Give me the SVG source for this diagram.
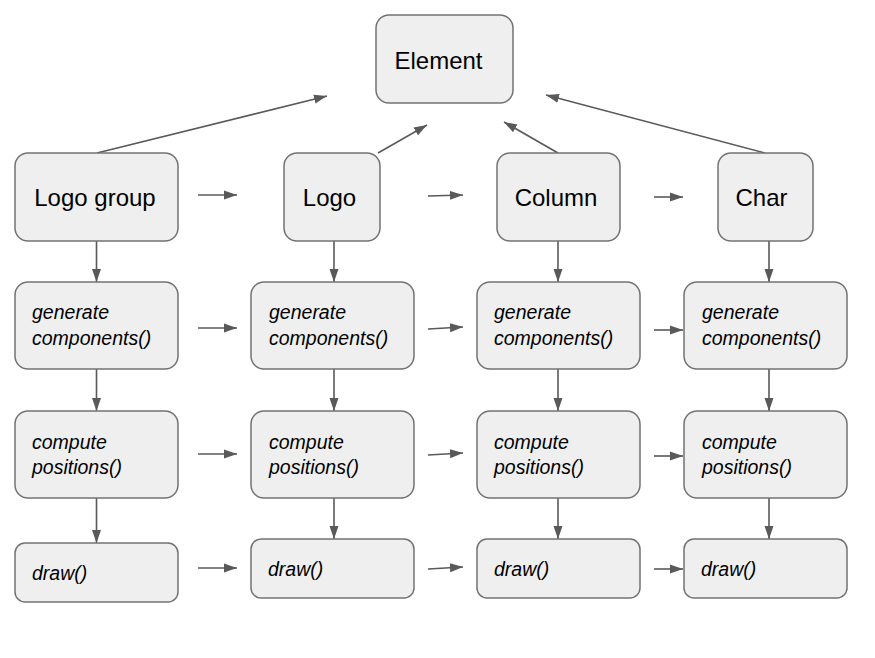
<svg xmlns="http://www.w3.org/2000/svg" width="875" height="658" viewBox="0 0 875 658">
<style>
.box{fill:#efefef;stroke:#737373;stroke-width:1.5}
.t{font-family:"Liberation Sans",Arial,sans-serif;font-size:24px;fill:#000;text-anchor:middle}
.i{font-family:"Liberation Sans",Arial,sans-serif;font-size:19.5px;font-style:italic;fill:#000}
.c{stroke:#595959;stroke-width:1.6;fill:none;marker-end:url(#ah)}
</style>
<defs>
<marker id="ah" markerUnits="userSpaceOnUse" markerWidth="14" markerHeight="10" refX="13" refY="5" orient="auto">
<path d="M0,0.5 L13,5 L0,9.5 Z" fill="#595959"/>
</marker>
</defs>
<rect width="875" height="658" fill="#fff"/>
<g id="connectors">
<line class="c" x1="97" y1="153" x2="327" y2="96"/>
<line class="c" x1="378" y1="153" x2="427" y2="125"/>
<line class="c" x1="558" y1="153" x2="504" y2="122"/>
<line class="c" x1="765" y1="153" x2="546" y2="95"/>
<line class="c" x1="198" y1="195" x2="237" y2="195"/>
<line class="c" x1="428" y1="196" x2="463" y2="195"/>
<line class="c" x1="654" y1="197" x2="683" y2="197"/>
<line class="c" x1="198" y1="328" x2="237" y2="328"/>
<line class="c" x1="428" y1="329" x2="463" y2="327"/>
<line class="c" x1="654" y1="330" x2="683" y2="330"/>
<line class="c" x1="198" y1="454" x2="237" y2="454"/>
<line class="c" x1="428" y1="455" x2="463" y2="453"/>
<line class="c" x1="654" y1="456" x2="683" y2="456"/>
<line class="c" x1="198" y1="568" x2="237" y2="568"/>
<line class="c" x1="428" y1="569" x2="463" y2="567"/>
<line class="c" x1="654" y1="569" x2="683" y2="569"/>
<line class="c" x1="96.5" y1="241" x2="96.5" y2="282"/>
<line class="c" x1="96.5" y1="369" x2="96.5" y2="411"/>
<line class="c" x1="96.5" y1="498" x2="96.5" y2="543"/>
<line class="c" x1="334" y1="241" x2="334" y2="282"/>
<line class="c" x1="334" y1="369" x2="334" y2="411"/>
<line class="c" x1="334" y1="498" x2="334" y2="539"/>
<line class="c" x1="558" y1="241" x2="558" y2="282"/>
<line class="c" x1="558" y1="369" x2="558" y2="411"/>
<line class="c" x1="558" y1="498" x2="558" y2="539"/>
<line class="c" x1="769" y1="241" x2="769" y2="282"/>
<line class="c" x1="769" y1="369" x2="769" y2="411"/>
<line class="c" x1="769" y1="498" x2="769" y2="539"/>
</g>
<g id="element"><rect class="box" x="376" y="15" width="137" height="88" rx="13"/><text class="t" x="438.5" y="69">Element</text></g>
<g id="logo-group"><rect class="box" x="15" y="153" width="163" height="88" rx="13"/><text class="t" x="95" y="206">Logo group</text></g>
<g id="logo"><rect class="box" x="284" y="153" width="96" height="88" rx="13"/><text class="t" x="329.5" y="206">Logo</text></g>
<g id="column"><rect class="box" x="497" y="153" width="123" height="88" rx="13"/><text class="t" x="556" y="206">Column</text></g>
<g id="char"><rect class="box" x="718" y="153" width="95" height="88" rx="13"/><text class="t" x="761.5" y="206">Char</text></g>
<g id="gen1"><rect class="box" x="15" y="282" width="163" height="87" rx="13"/><text class="i" x="32" y="319">generate</text><text class="i" x="32" y="345">components()</text></g>
<g id="gen2"><rect class="box" x="251" y="282" width="163" height="87" rx="13"/><text class="i" x="269" y="319">generate</text><text class="i" x="269" y="345">components()</text></g>
<g id="gen3"><rect class="box" x="477" y="282" width="163" height="87" rx="13"/><text class="i" x="494" y="319">generate</text><text class="i" x="494" y="345">components()</text></g>
<g id="gen4"><rect class="box" x="684" y="282" width="163" height="87" rx="13"/><text class="i" x="702" y="319">generate</text><text class="i" x="702" y="345">components()</text></g>
<g id="comp1"><rect class="box" x="15" y="411" width="163" height="87" rx="13"/><text class="i" x="32" y="449">compute</text><text class="i" x="32" y="474">positions()</text></g>
<g id="comp2"><rect class="box" x="251" y="411" width="163" height="87" rx="13"/><text class="i" x="269" y="449">compute</text><text class="i" x="269" y="474">positions()</text></g>
<g id="comp3"><rect class="box" x="477" y="411" width="163" height="87" rx="13"/><text class="i" x="494" y="449">compute</text><text class="i" x="494" y="474">positions()</text></g>
<g id="comp4"><rect class="box" x="684" y="411" width="163" height="87" rx="13"/><text class="i" x="702" y="449">compute</text><text class="i" x="702" y="474">positions()</text></g>
<g id="draw1"><rect class="box" x="15" y="543" width="163" height="59" rx="10"/><text class="i" x="32" y="580">draw()</text></g>
<g id="draw2"><rect class="box" x="251" y="539" width="163" height="59" rx="10"/><text class="i" x="268" y="576">draw()</text></g>
<g id="draw3"><rect class="box" x="477" y="539" width="163" height="59" rx="10"/><text class="i" x="494" y="576">draw()</text></g>
<g id="draw4"><rect class="box" x="684" y="539" width="163" height="59" rx="10"/><text class="i" x="701" y="576">draw()</text></g>
</svg>
